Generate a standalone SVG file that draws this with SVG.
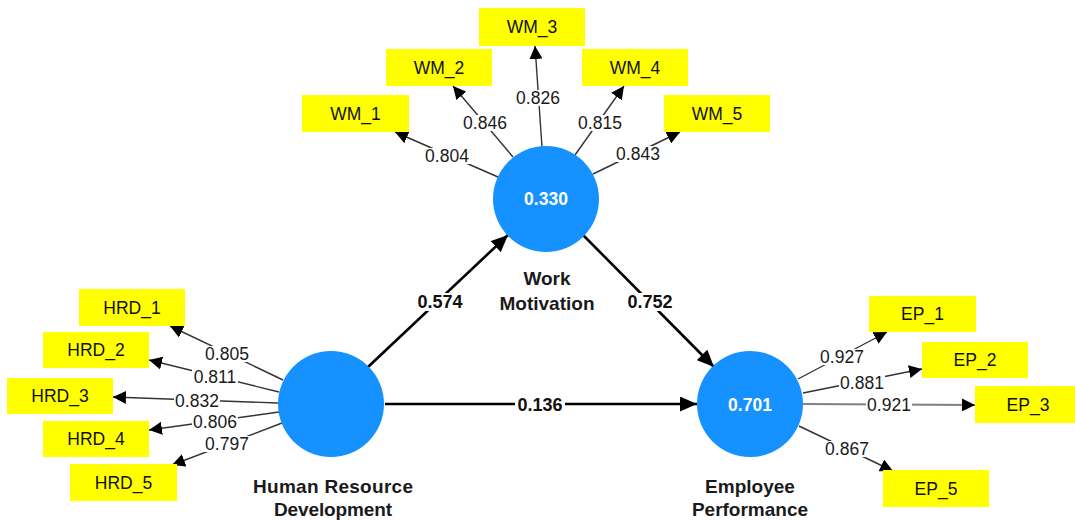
<svg xmlns="http://www.w3.org/2000/svg" width="1075" height="520" viewBox="0 0 1075 520">
<style>
.ind{fill:#ffff00;}
.it{font-family:"Liberation Sans",Arial,sans-serif;font-size:17.5px;fill:#111;text-anchor:middle;}
.lat{fill:#1592ff;}
.lv{font-family:"Liberation Sans",Arial,sans-serif;font-size:17.5px;font-weight:bold;fill:#fff;text-anchor:middle;}
.nm{font-family:"Liberation Sans",Arial,sans-serif;font-size:19px;font-weight:bold;fill:#1a1a1a;text-anchor:middle;}
.ld{stroke:#333;stroke-width:1.4;fill:none;}
.st{stroke:#000;stroke-width:2.6;fill:none;}
.bg{fill:#fff;}
.ll{font-family:"Liberation Sans",Arial,sans-serif;font-size:17.5px;fill:#1a1a1a;text-anchor:middle;}
.pl{font-family:"Liberation Sans",Arial,sans-serif;font-size:18px;font-weight:bold;fill:#111;text-anchor:middle;}
</style>
<defs>
<marker id="ah" markerUnits="userSpaceOnUse" markerWidth="14" markerHeight="13" refX="13" refY="6.5" orient="auto"><path d="M0,0 L13,6.5 L0,13 z" fill="#000"/></marker>
<marker id="ahs" markerUnits="userSpaceOnUse" markerWidth="18" markerHeight="15" refX="17" refY="7.5" orient="auto"><path d="M0,0 L17,7.5 L0,15 z" fill="#000"/></marker>
</defs>
<rect width="1075" height="520" fill="#fff"/>
<g id="connectors">
<line class="ld" x1="498" y1="177" x2="395" y2="132" marker-end="url(#ah)"/>
<line class="ld" x1="513" y1="157" x2="453" y2="86" marker-end="url(#ah)"/>
<line class="ld" x1="542" y1="147" x2="535" y2="46" marker-end="url(#ah)"/>
<line class="ld" x1="575" y1="155" x2="624" y2="86" marker-end="url(#ah)"/>
<line class="ld" x1="593" y1="174" x2="680" y2="132" marker-end="url(#ah)"/>
<line class="ld" x1="283" y1="380" x2="170" y2="326" marker-end="url(#ah)"/>
<line class="ld" x1="279" y1="392" x2="149" y2="360" marker-end="url(#ah)"/>
<line class="ld" x1="278" y1="403" x2="113" y2="397" marker-end="url(#ah)"/>
<line class="ld" x1="279" y1="412" x2="149" y2="430" marker-end="url(#ah)"/>
<line class="ld" x1="282" y1="423" x2="172" y2="465" marker-end="url(#ah)"/>
<line class="ld" x1="798" y1="379" x2="887" y2="332" marker-end="url(#ah)"/>
<line class="ld" x1="803" y1="393" x2="922" y2="369" marker-end="url(#ah)"/>
<line class="ld" x1="803" y1="404" x2="975" y2="405" marker-end="url(#ah)" style="stroke:#808080;stroke-width:2.2"/>
<line class="ld" x1="799" y1="426" x2="893" y2="471" marker-end="url(#ah)"/>
<line class="st" x1="368" y1="367" x2="508" y2="235" marker-end="url(#ahs)"/>
<line class="st" x1="583" y1="235" x2="714" y2="367" marker-end="url(#ahs)"/>
<line class="st" x1="385" y1="404" x2="697" y2="404" marker-end="url(#ahs)"/>
<rect class="bg" x="424" y="148" width="46" height="16"/><text class="ll" x="447" y="162">0.804</text>
<rect class="bg" x="462" y="115" width="46" height="16"/><text class="ll" x="485" y="129">0.846</text>
<rect class="bg" x="515" y="90" width="46" height="16"/><text class="ll" x="538" y="104">0.826</text>
<rect class="bg" x="577" y="115" width="46" height="16"/><text class="ll" x="600" y="129">0.815</text>
<rect class="bg" x="615" y="146" width="46" height="16"/><text class="ll" x="638" y="160">0.843</text>
<rect class="bg" x="204" y="346" width="46" height="16"/><text class="ll" x="227" y="360">0.805</text>
<rect class="bg" x="192" y="369" width="46" height="16"/><text class="ll" x="215" y="383">0.811</text>
<rect class="bg" x="174" y="393" width="46" height="16"/><text class="ll" x="197" y="407">0.832</text>
<rect class="bg" x="192" y="414" width="46" height="16"/><text class="ll" x="215" y="428">0.806</text>
<rect class="bg" x="204" y="436" width="46" height="16"/><text class="ll" x="227" y="450">0.797</text>
<rect class="bg" x="819" y="349" width="46" height="16"/><text class="ll" x="842" y="363">0.927</text>
<rect class="bg" x="839" y="375" width="46" height="16"/><text class="ll" x="862" y="389">0.881</text>
<rect class="bg" x="866" y="397" width="46" height="16"/><text class="ll" x="889" y="411">0.921</text>
<rect class="bg" x="824" y="441" width="46" height="16"/><text class="ll" x="847" y="455">0.867</text>
<rect class="bg" x="415" y="293" width="50" height="18"/><text class="pl" x="440" y="308">0.574</text>
<rect class="bg" x="625" y="293" width="50" height="18"/><text class="pl" x="650" y="308">0.752</text>
<rect class="bg" x="515" y="396" width="50" height="18"/><text class="pl" x="540" y="411">0.136</text>
</g>
<g id="WM_1"><rect class="ind" x="302" y="95" width="107" height="37"/><text class="it" x="355.5" y="120">WM_1</text></g>
<g id="WM_2"><rect class="ind" x="386" y="49" width="106" height="37"/><text class="it" x="439" y="74">WM_2</text></g>
<g id="WM_3"><rect class="ind" x="479" y="8" width="106" height="38"/><text class="it" x="532" y="33">WM_3</text></g>
<g id="WM_4"><rect class="ind" x="582" y="49" width="106" height="37"/><text class="it" x="635" y="74">WM_4</text></g>
<g id="WM_5"><rect class="ind" x="664" y="95" width="106" height="37"/><text class="it" x="717" y="120">WM_5</text></g>
<g id="HRD_1"><rect class="ind" x="79" y="289" width="106" height="37"/><text class="it" x="132" y="314">HRD_1</text></g>
<g id="HRD_2"><rect class="ind" x="43" y="332" width="106" height="36"/><text class="it" x="96" y="356">HRD_2</text></g>
<g id="HRD_3"><rect class="ind" x="7" y="378" width="106" height="36"/><text class="it" x="60" y="402">HRD_3</text></g>
<g id="HRD_4"><rect class="ind" x="43" y="421" width="106" height="36"/><text class="it" x="96" y="445">HRD_4</text></g>
<g id="HRD_5"><rect class="ind" x="70" y="464" width="107" height="37"/><text class="it" x="123.5" y="489">HRD_5</text></g>
<g id="EP_1"><rect class="ind" x="869" y="296" width="107" height="36"/><text class="it" x="922.5" y="320">EP_1</text></g>
<g id="EP_2"><rect class="ind" x="922" y="342" width="106" height="36"/><text class="it" x="975" y="366">EP_2</text></g>
<g id="EP_3"><rect class="ind" x="975" y="386" width="106" height="37"/><text class="it" x="1028" y="411">EP_3</text></g>
<g id="EP_5"><rect class="ind" x="883" y="470" width="106" height="37"/><text class="it" x="936" y="495">EP_5</text></g>
<g id="WorkMotivation"><circle class="lat" cx="546" cy="199" r="53"/><text class="lv" x="546" y="205">0.330</text><text class="nm" x="547" y="285">Work</text><text class="nm" x="547" y="310">Motivation</text></g>
<g id="HumanResourceDevelopment"><circle class="lat" cx="331" cy="404" r="53"/><text class="nm" x="333" y="493" textLength="160" lengthAdjust="spacing">Human Resource</text><text class="nm" x="333" y="516" textLength="118" lengthAdjust="spacing">Development</text></g>
<g id="EmployeePerformance"><circle class="lat" cx="750" cy="404" r="53"/><text class="lv" x="750" y="411">0.701</text><text class="nm" x="750" y="493">Employee</text><text class="nm" x="750" y="516">Performance</text></g>
</svg>
